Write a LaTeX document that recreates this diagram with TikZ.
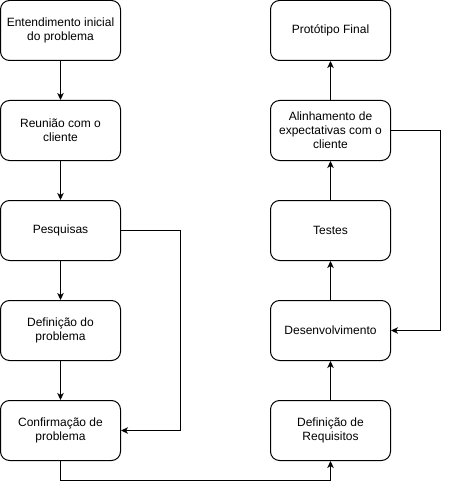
\documentclass[tikz,border=0pt]{standalone}
\usepackage{fontspec}
\setmainfont{Liberation Sans}
\usetikzlibrary{arrows.meta}
\begin{document}
\begin{tikzpicture}[x=1pt,y=-1pt,
  box/.style={draw=black,line width=1pt,rounded corners=9pt,minimum width=120pt,minimum height=60pt,
    align=center,inner sep=0pt,font=\fontsize{12}{14}\selectfont,fill=white},
  conn/.style={draw=black,line width=1pt,-{Stealth[length=7pt,width=6.5pt,inset=2pt]}}]
\useasboundingbox (0,0) rectangle (459,489);
\node[box] (a) at (60.5,30.5) {Entendimento inicial\\do problema};
\node[box] (b) at (60.5,130.5) {Reunião com o\\cliente};
\node[box] (c) at (60.5,230.5) {Pesquisas};
\node[box] (d) at (60.5,330.5) {Definição do\\problema};
\node[box] (e) at (60.5,430.5) {Confirmação de\\problema};
\node[box] (f) at (330.5,430.5) {Definição de\\Requisitos};
\node[box] (g) at (330.5,330.5) {Desenvolvimento};
\node[box] (h) at (330.5,230.5) {Testes};
\node[box] (i) at (330.5,130.5) {Alinhamento de\\expectativas com o\\cliente};
\node[box] (j) at (330.5,30.5) {Protótipo Final};
\draw[conn] (a) -- (b);
\draw[conn] (b) -- (c);
\draw[conn] (c) -- (d);
\draw[conn] (d) -- (e);
\draw[conn] (c.east) -- (180.5,230.5) -- (180.5,430.5) -- (e.east);
\draw[conn] (e.south) -- (60.5,480.5) -- (330.5,480.5) -- (f.south);
\draw[conn] (f) -- (g);
\draw[conn] (g) -- (h);
\draw[conn] (h) -- (i);
\draw[conn] (i) -- (j);
\draw[conn] (i.east) -- (440.5,130.5) -- (440.5,330.5) -- (g.east);
\end{tikzpicture}
\end{document}
